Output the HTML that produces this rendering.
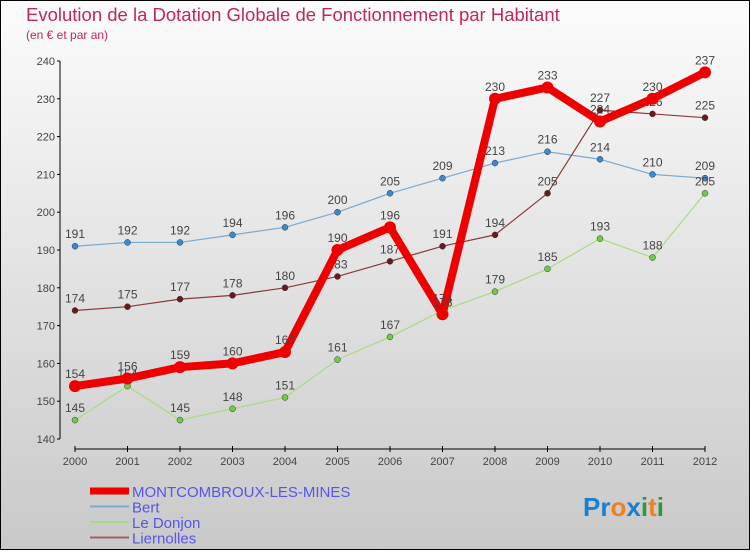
<!DOCTYPE html>
<html><head><meta charset="utf-8"><style>
body{margin:0}
svg text{font-family:"Liberation Sans",sans-serif}
</style></head><body>
<svg width="750" height="550" viewBox="0 0 750 550" xmlns="http://www.w3.org/2000/svg">
<defs><linearGradient id="bg" x1="0" y1="0" x2="0" y2="1"><stop offset="0" stop-color="#fcfcfc"/><stop offset="1" stop-color="#c9c9c9"/></linearGradient></defs>
<rect x="0.5" y="0.5" width="749" height="549" fill="url(#bg)" stroke="#000"/>
<text x="26" y="21" font-size="18.5" fill="#c0285a">Evolution de la Dotation Globale de Fonctionnement par Habitant</text>
<text x="26" y="39" font-size="12" fill="#c0285a">(en € et par an)</text>
<g id="axes"></g>
<g id="series"></g>
<g id="legend"></g>
<text x="583" y="516" font-size="26" font-weight="bold"><tspan fill="#1a7fd0">Pr</tspan><tspan fill="#f08020">o</tspan><tspan fill="#1a7fd0">x</tspan><tspan fill="#2a9a3a">i</tspan><tspan fill="#f08020">t</tspan><tspan fill="#2a9a3a">i</tspan></text>
</svg>
<script>
const years=[2000,2001,2002,2003,2004,2005,2006,2007,2008,2009,2010,2011,2012];
const yTicks=[140,150,160,170,180,190,200,210,220,230,240];
const montcombroux=[154,156,159,160,163,190,196,173,230,233,224,230,237];
const bert=[191,192,192,194,196,200,205,209,213,216,214,210,209];
const donjon=[145,154,145,148,151,161,167,174,179,185,193,188,205];
const liernolles=[174,175,177,178,180,183,187,191,194,205,227,226,225];
const NS="http://www.w3.org/2000/svg";
const X=i=>75+i*(630/12);
const Y=v=>439-(v-140)*3.78;
function mk(tag,at,parent){const e=document.createElementNS(NS,tag);for(const k in at)e.setAttribute(k,at[k]);parent.appendChild(e);return e;}
const ax=document.getElementById('axes');
let l=mk('line',{x1:60,y1:Y(240),x2:60,y2:Y(140),stroke:'#000'},ax);


yTicks.forEach(v=>{
 mk('line',{x1:57,y1:Y(v),x2:60,y2:Y(v),stroke:'#000'},ax);
 const t=mk('text',{x:55,y:Y(v)+4,'font-size':11,fill:'#444','text-anchor':'end'},ax);t.textContent=v;
 
 
});
l=mk('line',{x1:X(0),y1:449,x2:X(12),y2:449,stroke:'#000'},ax);


years.forEach((y,i)=>{
 mk('line',{x1:X(i),y1:446,x2:X(i),y2:452,stroke:'#000'},ax);
 const t=mk('text',{x:X(i),y:465,'font-size':11,fill:'#444','text-anchor':'middle'},ax);t.textContent=y;
 
 
});
const sg=document.getElementById('series');
function series(vals,color,dot,w,r,name){
 const g=mk('g',{},sg);
 
 
 const p=mk('polyline',{points:vals.map((v,i)=>X(i)+','+Y(v)).join(' '),fill:'none',stroke:color,'stroke-width':w,'stroke-linejoin':'round'},g);
 
 
 vals.forEach((v,i)=>{
  const c=mk('circle',{cx:X(i),cy:Y(v),r:r,fill:dot,stroke:'#333','stroke-width':w>5?0:0.5},g);
  
  
  const t=mk('text',{x:X(i),y:Y(v)-8,'font-size':12,fill:'#444','text-anchor':'middle'},g);t.textContent=v;
  
  
 });
}
series(bert,'#7aaad0','#3a8ad0',1.2,3,'bert');
series(donjon,'#a8dc80','#70cc40',1.2,3,'le-donjon');
series(liernolles,'#8a3a3a','#6a1a1a',1.2,3,'liernolles');
series(montcombroux,'#ee0000','#ee0000',8,6,'montcombroux');
const lg=document.getElementById('legend');
const items=[['MONTCOMBROUX-LES-MINES','#ee0000',7],['Bert','#7aaad0',2],['Le Donjon','#a8dc80',2],['Liernolles','#a06060',2]];
items.forEach((it,i)=>{
 const y=491+i*15.5;
 const g=mk('g',{},lg);
 
 
 mk('line',{x1:90,y1:y,x2:129,y2:y,stroke:it[1],'stroke-width':it[2]},g);
 const t=mk('text',{x:132,y:y+6,'font-size':15,fill:'#5555ee'},g);t.textContent=it[0];
});
</script>
</body></html>
